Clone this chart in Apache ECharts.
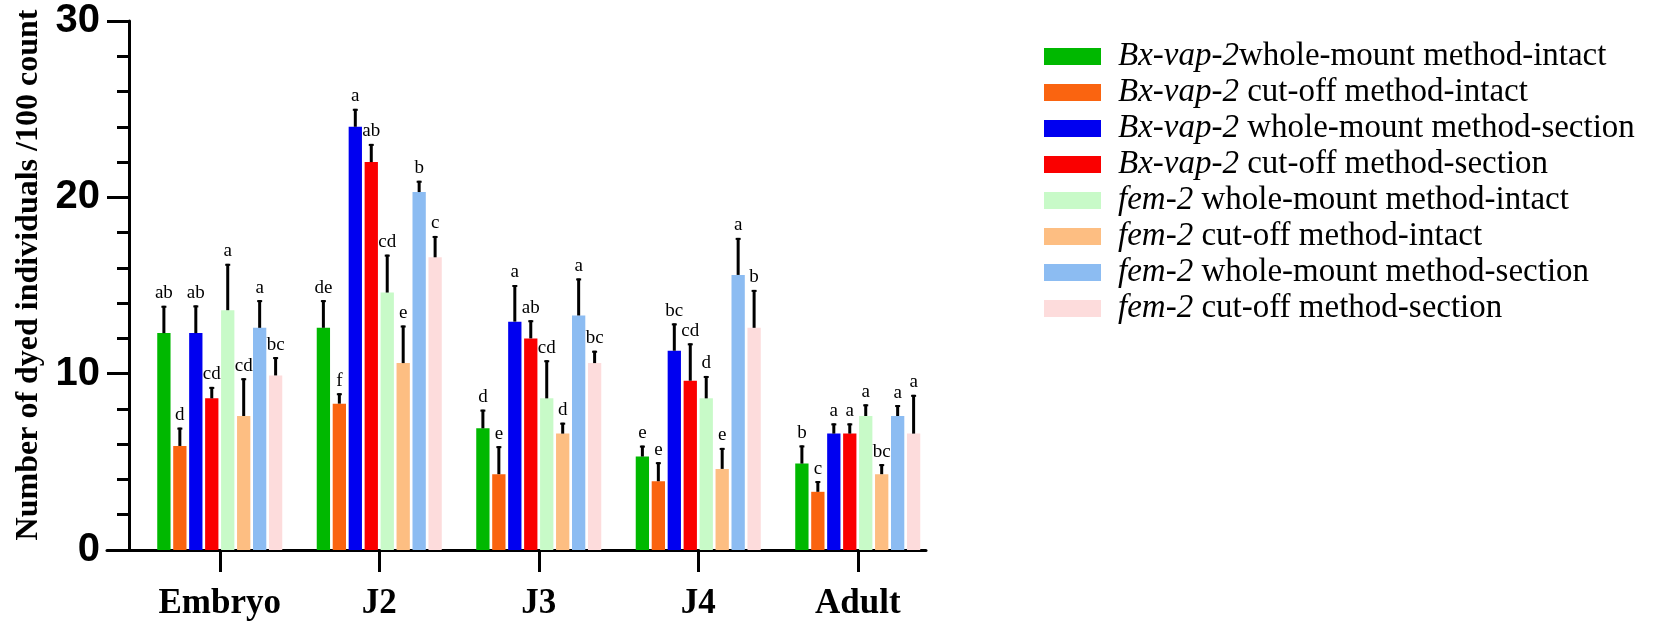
<!DOCTYPE html>
<html>
<head>
<meta charset="utf-8">
<script src="https://cdn.jsdelivr.net/npm/echarts@6/dist/echarts.min.js"></script>
<style>html,body{margin:0;padding:0;background:#fff}#c{width:1653px;height:625px}</style>
</head>
<body>
<div id="c"></div>
<script>
var categories = ['Embryo', 'J2', 'J3', 'J4', 'Adult'];
var yTicks = [0, 10, 20, 30];
var seriesGene = ['Bx-vap-2', 'Bx-vap-2', 'Bx-vap-2', 'Bx-vap-2', 'fem-2', 'fem-2', 'fem-2', 'fem-2'];
var seriesMethod = ['whole-mount method-intact', ' cut-off method-intact', ' whole-mount method-section', ' cut-off method-section',
  ' whole-mount method-intact', ' cut-off method-intact', ' whole-mount method-section', ' cut-off method-section'];
var colors = ['#00b800', '#fa6410', '#0000f0', '#fa0000', '#c8fac8', '#fdbe82', '#8cbcf2', '#fddcdc'];

var mBxWmIntact = [12.3, 12.6, 6.9, 5.3, 4.9];
var mBxCoIntact = [5.9, 8.3, 4.3, 3.9, 3.3];
var mBxWmSection = [12.3, 24.0, 12.95, 11.3, 6.6];
var mBxCoSection = [8.6, 22.0, 12.0, 9.6, 6.6];
var mFemWmIntact = [13.6, 14.6, 8.6, 8.6, 7.6];
var mFemCoIntact = [7.6, 10.6, 6.6, 4.6, 4.3];
var mFemWmSection = [12.6, 20.3, 13.3, 15.6, 7.6];
var mFemCoSection = [9.9, 16.6, 10.6, 12.6, 6.6];

var eBxWmIntact = [1.55, 1.57, 1.06, 0.62, 1.03];
var eBxCoIntact = [1.04, 0.59, 1.59, 1.08, 0.61];
var eBxWmSection = [1.57, 1.02, 2.08, 1.55, 0.58];
var eBxCoSection = [0.65, 1.03, 1.03, 2.12, 0.58];
var eFemWmIntact = [2.63, 2.15, 2.16, 1.27, 0.66];
var eFemCoIntact = [2.14, 2.13, 0.62, 1.19, 0.57];
var eFemWmSection = [1.57, 0.64, 2.1, 2.1, 0.62];
var eFemCoSection = [1.04, 1.21, 0.7, 2.15, 2.2];

var lBxWmIntact = ['ab', 'de', 'd', 'e', 'b'];
var lBxCoIntact = ['d', 'f', 'e', 'e', 'c'];
var lBxWmSection = ['ab', 'a', 'a', 'bc', 'a'];
var lBxCoSection = ['cd', 'ab', 'ab', 'cd', 'a'];
var lFemWmIntact = ['a', 'cd', 'cd', 'd', 'a'];
var lFemCoIntact = ['cd', 'e', 'd', 'e', 'bc'];
var lFemWmSection = ['a', 'b', 'a', 'a', 'a'];
var lFemCoSection = ['bc', 'c', 'bc', 'b', 'a'];

var means = [mBxWmIntact, mBxCoIntact, mBxWmSection, mBxCoSection, mFemWmIntact, mFemCoIntact, mFemWmSection, mFemCoSection];
var errs = [eBxWmIntact, eBxCoIntact, eBxWmSection, eBxCoSection, eFemWmIntact, eFemCoIntact, eFemWmSection, eFemCoSection];
var letters = [lBxWmIntact, lBxCoIntact, lBxWmSection, lBxCoSection, lFemWmIntact, lFemCoIntact, lFemWmSection, lFemCoSection];

var BW = 13.3, GAPR = 0.2;
var N = means.length;
var names = seriesGene.map(function (g, i) { return g + seriesMethod[i]; });

var series = [];
means.forEach(function (m, si) {
  series.push({
    type: 'bar', name: names[si], data: m, barWidth: BW, barGap: (GAPR * 100) + '%',
    itemStyle: { color: colors[si] }, xAxisIndex: 0, yAxisIndex: 0, z: 2
  });
});
means.forEach(function (m, si) {
  series.push({
    type: 'custom', name: 'err' + si, xAxisIndex: 0, yAxisIndex: 0, z: 5,
    encode: { x: 0, y: 1 },
    data: categories.map(function (c, i) { return [i, m[i], errs[si][i], si]; }),
    renderItem: function (params, api) {
      var ci = api.value(0), v = api.value(1), e = api.value(2);
      var base = api.coord([ci, v]);
      var top = api.coord([ci, v + e]);
      var off = (si - (N - 1) / 2) * (BW * (1 + GAPR));
      var x = base[0] + off;
      return {
        type: 'group', children: [
          { type: 'line', shape: { x1: x, y1: base[1], x2: x, y2: top[1] }, style: { stroke: '#000', lineWidth: 3 } },
          { type: 'line', shape: { x1: x - 2.5, y1: top[1] + 1, x2: x + 2.5, y2: top[1] + 1 }, style: { stroke: '#000', lineWidth: 2 } },
          { type: 'text', x: x, y: top[1] - 3, style: { text: letters[si][ci], align: 'center', verticalAlign: 'bottom', font: '19px "Liberation Serif"', fill: '#000' } }
        ]
      };
    }
  });
});

var option = {
  animation: false,
  backgroundColor: '#fff',
  grid: [
    { left: 140, right: 1653 - 937.5, top: 21, bottom: 75 },
    { left: 107, right: 1653 - 926, top: 21, bottom: 75 }
  ],
  xAxis: [
    {
      type: 'category', gridIndex: 0, data: categories,
      axisLine: { show: false },
      axisTick: { show: true, alignWithLabel: true, length: 22, lineStyle: { color: '#000', width: 3 } },
      axisLabel: { margin: 36, color: '#000', fontFamily: 'Liberation Serif', fontWeight: 'bold', fontSize: 35 },
      splitLine: { show: false }
    },
    {
      type: 'value', gridIndex: 1, min: 0, max: 1,
      axisLine: { show: true, lineStyle: { color: '#000', width: 3 } },
      axisTick: { show: false }, axisLabel: { show: false }, splitLine: { show: false }
    }
  ],
  yAxis: [
    {
      type: 'value', gridIndex: 0, min: yTicks[0], max: yTicks[yTicks.length - 1], interval: 10, offset: 11,
      axisLine: { show: true, lineStyle: { color: '#000', width: 3 } },
      axisTick: { show: true, length: 22, lineStyle: { color: '#000', width: 3 } },
      minorTick: { show: true, splitNumber: 5, length: 12, lineStyle: { color: '#000', width: 3 } },
      axisLabel: { margin: 29, color: '#000', fontFamily: 'Liberation Sans', fontWeight: 'bold', fontSize: 40 },
      splitLine: { show: false }
    },
    { type: 'value', gridIndex: 1, show: false, min: 0, max: 1 }
  ],
  legend: {
    orient: 'vertical', left: 1044, top: 40, padding: 0,
    itemWidth: 57, itemHeight: 17, itemGap: 3,
    icon: 'rect',
    data: names,
    formatter: function (name) {
      var i = names.indexOf(name);
      return '{i|' + seriesGene[i] + '}{n|' + seriesMethod[i] + '}';
    },
    textStyle: {
      padding: [0, 0, 0, 12],
      rich: {
        i: { fontFamily: 'Liberation Serif', fontStyle: 'italic', fontSize: 33, color: '#000', lineHeight: 33 },
        n: { fontFamily: 'Liberation Serif', fontSize: 33, color: '#000', lineHeight: 33 }
      }
    }
  },
  graphic: [
    {
      type: 'text', x: 29, y: 275, rotation: Math.PI / 2,
      style: { text: 'Number of dyed individuals /100 count', align: 'center', verticalAlign: 'middle', font: 'bold 32px "Liberation Serif"', fill: '#000' }
    }
  ],
  series: series
};
var chart = echarts.init(document.getElementById('c'), null, { renderer: 'canvas' });
chart.setOption(option);
</script>
</body>
</html>
